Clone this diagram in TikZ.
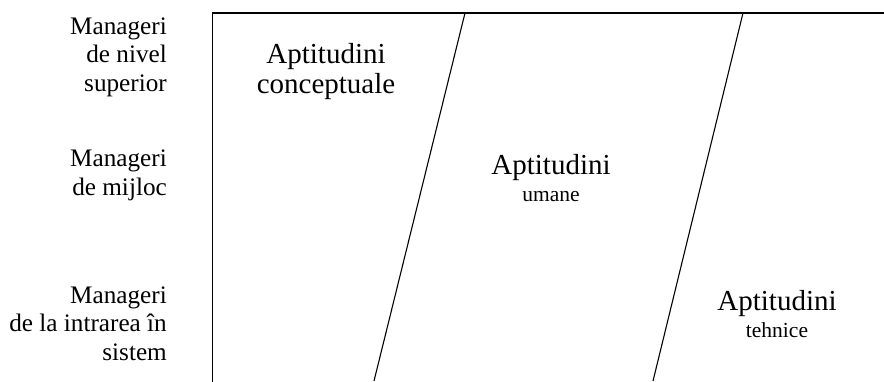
\documentclass[tikz,border=0pt]{standalone}
\usepackage{fontspec}
\setmainfont{Liberation Serif}
\begin{document}
\begin{tikzpicture}[x=1pt,y=-1pt,
  frameline/.style={line width=1.2pt,line cap=rect},
  divline/.style={line width=1.1pt},
  levellabel/.style={align=right,anchor=base east,inner sep=0pt,font=\fontsize{25.2}{28.3}\selectfont},
  bigword/.style={anchor=base,inner sep=0pt,font=\fontsize{29}{30}\selectfont},
  smallword/.style={anchor=base,inner sep=0pt,font=\fontsize{21.5}{24}\selectfont}]
\useasboundingbox (0,0) rectangle (884,381);
% frame
\coordinate (tl) at (212.5,13);
\coordinate (tr) at (884,13);
\coordinate (bl) at (212.5,381);
\draw[frameline] (bl) -- (tl) -- (tr);
% dividing lines
\coordinate (d1t) at (465,13);
\coordinate (d1b) at (374,381);
\coordinate (d2t) at (743,13);
\coordinate (d2b) at (653,381);
\draw[divline] (d1t) -- (d1b);
\draw[divline] (d2t) -- (d2b);
% level labels (anchored at the baseline of their last line)
\node[levellabel] (sup) at (167,91) {Manageri\\de nivel\\superior};
\node[levellabel] (mij) at (167,195) {Manageri\\de mijloc};
\node[levellabel] (intr) at (167,360) {Manageri\\de la intrarea în\\sistem};
% skills
\node[bigword] (conc1) at (326,63) {Aptitudini};
\node[bigword] (conc2) at (326,93) {conceptuale};
\node[bigword] (uman1) at (551,174) {Aptitudini};
\node[smallword] (uman2) at (551,201) {umane};
\node[bigword] (teh1) at (777,310) {Aptitudini};
\node[smallword] (teh2) at (777,337) {tehnice};
\end{tikzpicture}
\end{document}
